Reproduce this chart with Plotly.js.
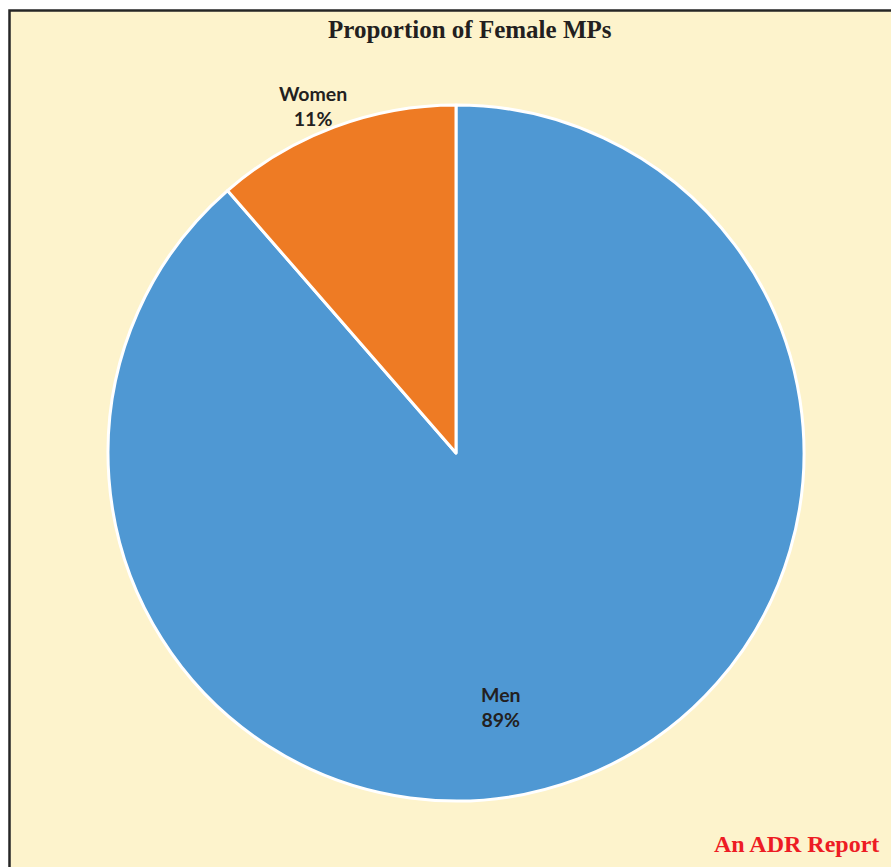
<!DOCTYPE html>
<html>
<head>
<meta charset="utf-8">
<script src="https://cdn.plot.ly/plotly-3.0.1.min.js"></script>
<style>html,body{margin:0;padding:0;background:#fff;}#chart{width:891px;height:867px;}</style>
</head>
<body>
<div id="chart"></div>
<script>
// Data
const categories = ["Men", "Women"];
const shares = [88.6, 11.4];
const sliceColors = ["#4F98D3", "#EE7B24"];
const chartTitle = "Proportion of Female MPs";
const sourceNote = "An ADR Report";

const W = 891, H = 867;
const px = x => x / W;
const py = y => 1 - y / H;

const total = shares.reduce((a, b) => a + b, 0);
const labelText = categories.map((c, i) => c + "<br>" + Math.round(shares[i] / total * 100) + "%");

const labelPos = [[501, 707], [313, 106]];

const trace = {
  type: "pie",
  labels: categories,
  values: shares,
  sort: false,
  direction: "clockwise",
  rotation: 0,
  textinfo: "none",
  hoverinfo: "label+percent",
  marker: { colors: sliceColors, line: { color: "#FFFFFF", width: 3 } },
  domain: { x: [px(108), px(804)], y: [py(801), py(105)] },
  showlegend: false
};

const annotations = categories.map((c, i) => ({
  text: labelText[i],
  x: px(labelPos[i][0]), y: py(labelPos[i][1]),
  xref: "paper", yref: "paper",
  xanchor: "center", yanchor: "middle",
  showarrow: false,
  align: "center",
  font: { family: "Lato, 'Open Sans', sans-serif", size: 19.5, color: "#231F20", weight: "bold" }
}));

annotations.push({
  text: "<b>" + chartTitle + "</b>",
  x: px(470), y: py(30), xref: "paper", yref: "paper",
  xanchor: "center", yanchor: "middle", showarrow: false,
  font: { family: "'Liberation Serif', 'Times New Roman', serif", size: 25, color: "#231F20" }
});
annotations.push({
  text: "<b>" + sourceNote + "</b>",
  x: px(881), y: py(844), xref: "paper", yref: "paper",
  xanchor: "right", yanchor: "middle", showarrow: false,
  font: { family: "'Liberation Serif', 'Times New Roman', serif", size: 24, color: "#ED1C24" }
});

const layout = {
  width: W, height: H,
  margin: { l: 0, r: 0, t: 0, b: 0 },
  paper_bgcolor: "#FFFFFF",
  shapes: [{
    type: "rect", xref: "paper", yref: "paper", layer: "below",
    x0: px(9.5), x1: 1.05, y0: -0.05, y1: py(10.5),
    fillcolor: "#FDF3CC",
    line: { color: "#262626", width: 2.5 }
  }],
  annotations: annotations
};

Plotly.newPlot("chart", [trace], layout, { displayModeBar: false, staticPlot: true });
</script>
</body>
</html>
